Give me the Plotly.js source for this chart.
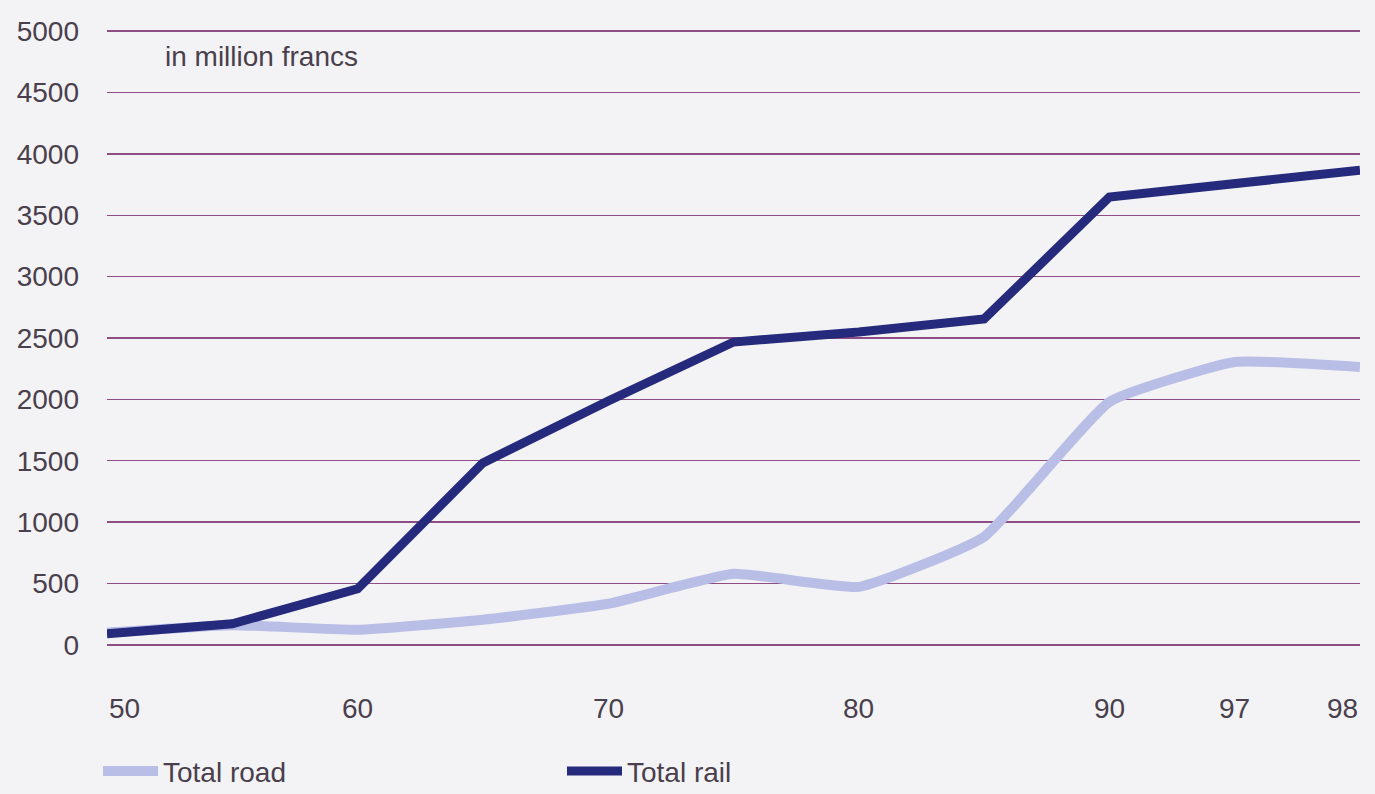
<!DOCTYPE html>
<html>
<head>
<meta charset="utf-8">
<script src="https://cdn.plot.ly/plotly-3.0.1.min.js"></script>
<style>
html,body{margin:0;padding:0;background:#f3f3f5;}
#chart{width:1375px;height:794px;}
</style>
</head>
<body>
<div id="chart"></div>
<script>
const years = ["50","55","60","65","70","75","80","85","90","97","98"];
const yearLabels = ["50","","60","","70","","80","","90","97","98"];
const totalRoad = [100, 160, 122, 204, 334, 578, 472, 880, 1979, 2305, 2264];
const totalRail = [90, 171, 456, 1482, 1987, 2467, 2549, 2655, 3648, 3762, 3868];
const yTicks = [0, 500, 1000, 1500, 2000, 2500, 3000, 3500, 4000, 4500, 5000];

const FONT = "Liberation Sans, Arial, sans-serif";
const TEXT = "#4a3f4c";

const traces = [
  {x: years, y: totalRoad, name: "Total road", type: "scatter", mode: "lines",
   line: {color: "#b9bee6", width: 10, shape: "spline", smoothing: 0.4}},
  {x: years, y: totalRail, name: "Total rail", type: "scatter", mode: "lines",
   line: {color: "#252a7c", width: 9}}
];

const annotations = [];
years.forEach((yr, i) => {
  if (!yearLabels[i]) return;
  annotations.push({
    x: i, y: -0.101, xref: "x", yref: "paper",
    text: yearLabels[i], showarrow: false,
    xanchor: i === 0 ? "left" : (i === years.length - 1 ? "right" : "center"),
    yanchor: "middle",
    font: {family: FONT, size: 28, color: TEXT}
  });
});
annotations.push({
  xref: "paper", yref: "paper", x: (163-107)/(1360-107), y: (645-57)/614,
  xanchor: "left", yanchor: "middle", showarrow: false,
  text: "in million francs", font: {family: FONT, size: 28, color: TEXT}
});

const layout = {
  width: 1375, height: 794,
  margin: {l: 107, r: 15, t: 30, b: 148, autoexpand: false},
  paper_bgcolor: "#f3f3f5", plot_bgcolor: "#f3f3f5",
  font: {family: FONT, size: 28, color: TEXT},
  showlegend: true,
  legend: {orientation: "h", x: (98-107)/1253, y: -0.163, xanchor: "left", yanchor: "top",
           entrywidth: 394, entrywidthmode: "pixels", itemwidth: 55,
           font: {family: FONT, size: 28, color: TEXT}, bgcolor: "rgba(0,0,0,0)"},
  xaxis: {type: "category", range: [0, years.length - 1], showgrid: false, zeroline: false,
          showline: false, showticklabels: false, ticks: "", fixedrange: true},
  yaxis: {range: [-10, 5010], tickvals: yTicks, ticktext: yTicks.map(String),
          showgrid: true, gridcolor: "#8e4d84", gridwidth: 1.5, zeroline: false,
          showline: false, ticks: "", ticklabelstandoff: 27,
          tickfont: {family: FONT, size: 28, color: TEXT}, fixedrange: true},
  annotations: annotations
};

Plotly.newPlot("chart", traces, layout, {displayModeBar: false, staticPlot: true});
</script>
</body>
</html>
